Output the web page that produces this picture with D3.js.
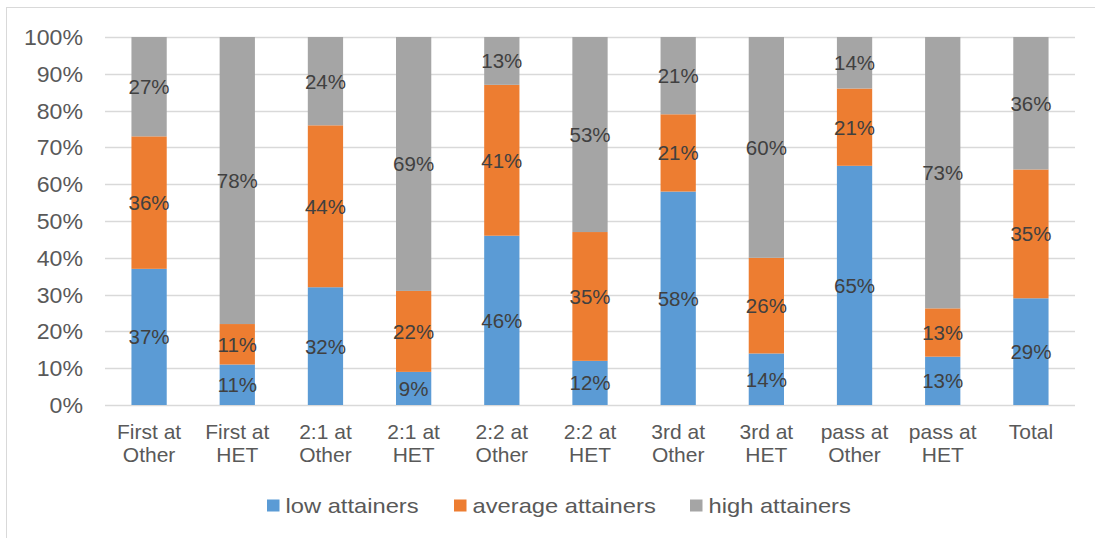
<!DOCTYPE html>
<html>
<head>
<meta charset="utf-8">
<script src="https://cdn.jsdelivr.net/npm/d3@7/dist/d3.min.js"></script>
<style>
  body { margin: 0; background: #fff; }
  svg text { font-family: "Liberation Sans", Arial, sans-serif; }
</style>
</head>
<body>
<svg id="chart" width="1095" height="538"></svg>
<script>
// Degree outcome groups and the share of each attainment band
const categories = ["First at|Other", "First at|HET", "2:1 at|Other", "2:1 at|HET", "2:2 at|Other", "2:2 at|HET",
                    "3rd at|Other", "3rd at|HET", "pass at|Other", "pass at|HET", "Total"];
const lowAttainers     = [37, 11, 32, 9, 46, 12, 58, 14, 65, 13, 29];
const averageAttainers = [36, 11, 44, 22, 41, 35, 21, 26, 21, 13, 35];
const highAttainers    = [27, 78, 24, 69, 13, 53, 21, 60, 14, 73, 36];
const seriesNames  = ["low attainers", "average attainers", "high attainers"];
const seriesColors = ["#5B9BD5", "#ED7D31", "#A5A5A5"];
const yTicks = [0, 10, 20, 30, 40, 50, 60, 70, 80, 90, 100];

const svg = d3.select("#chart");

// outer chart frame
svg.append("rect").attr("x", 6.5).attr("y", 7.5).attr("width", 1200).attr("height", 600)
  .attr("fill", "none").attr("stroke", "#D9D9D9").attr("stroke-width", 1);

const plot = { left: 105, right: 1075, top: 37, bottom: 405 };

const x = d3.scaleBand().domain(categories).range([plot.left, plot.right]).paddingInner(0.6).paddingOuter(0.3);
const y = d3.scaleLinear().domain([0, 100]).range([plot.bottom, plot.top]);

// rows normalised to 100% like a 100% stacked column chart
const rows = categories.map((c, i) => {
  const vals = [lowAttainers[i], averageAttainers[i], highAttainers[i]];
  const total = d3.sum(vals);
  return { cat: c, vals, total, "0": vals[0] / total * 100, "1": vals[1] / total * 100, "2": vals[2] / total * 100 };
});
const stacked = d3.stack().keys(["0", "1", "2"])(rows);

// gridlines
svg.append("g").selectAll("line").data(yTicks).join("line")
  .attr("x1", plot.left).attr("x2", plot.right)
  .attr("y1", d => Math.round(y(d)) + 0.5).attr("y2", d => Math.round(y(d)) + 0.5)
  .attr("stroke", "#D9D9D9").attr("stroke-width", 1.3);

// y axis labels
svg.append("g").selectAll("text").data(yTicks).join("text")
  .attr("transform", d => `translate(83,${y(d)}) scale(1.05,1)`)
  .attr("dy", "0.36em")
  .attr("text-anchor", "end").attr("font-size", 22).attr("fill", "#595959")
  .text(d => d + "%");

// bars
const layers = svg.append("g").selectAll("g").data(stacked).join("g")
  .attr("fill", (d, i) => seriesColors[i]);
layers.selectAll("rect").data(d => d).join("rect")
  .attr("x", d => x(d.data.cat))
  .attr("width", x.bandwidth())
  .attr("y", d => y(d[1]))
  .attr("height", d => y(d[0]) - y(d[1]));

// data labels
const labels = svg.append("g");
stacked.forEach((layer, si) => {
  labels.selectAll(null).data(layer).join("text")
    .attr("x", d => x(d.data.cat) + x.bandwidth() / 2)
    .attr("y", d => y((d[0] + d[1]) / 2)).attr("dy", "0.36em")
    .attr("text-anchor", "middle").attr("font-size", 20.5).attr("fill", "#404040")
    .text(d => d.data.vals[si] + "%");
});

// category labels
const catG = svg.append("g").selectAll("text").data(categories).join("text")
  .attr("x", d => x(d) + x.bandwidth() / 2)
  .attr("y", 438.5)
  .attr("text-anchor", "middle").attr("font-size", 21).attr("fill", "#595959");
catG.each(function(d) {
  const parts = d.split("|");
  const t = d3.select(this);
  parts.forEach((p, k) => {
    t.append("tspan").attr("x", x(d) + x.bandwidth() / 2).attr("dy", k === 0 ? 0 : 23.5).text(p);
  });
});

// legend
const legendX = [267, 454, 690];
const lg = svg.append("g").selectAll("g").data(seriesNames).join("g")
  .attr("transform", (d, i) => `translate(${legendX[i]},499.5)`);
lg.append("rect").attr("width", 12.5).attr("height", 12).attr("fill", (d, i) => seriesColors[i]);
lg.append("text").attr("transform", "translate(18.5,13.5) scale(1.13,1)")
  .attr("font-size", 21).attr("fill", "#595959").text(d => d);
</script>
</body>
</html>
